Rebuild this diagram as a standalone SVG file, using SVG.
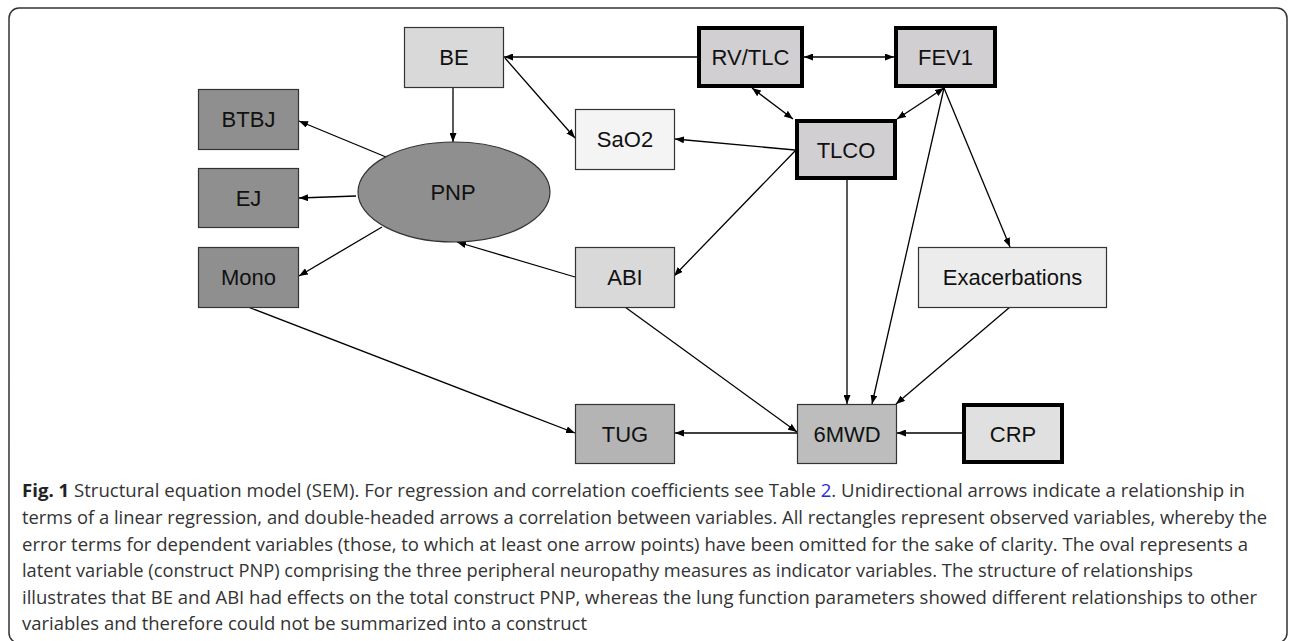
<svg xmlns="http://www.w3.org/2000/svg" width="1290" height="641" viewBox="0 0 1290 641">
<defs>
<style>
.n{stroke:#333;stroke-width:1.2}
.t{stroke:#000;stroke-width:4}
.lb{font-family:"Liberation Sans",Arial,sans-serif;font-size:22px;fill:#111;text-anchor:middle}
.c line{stroke:#000;stroke-width:1.3;marker-end:url(#ah)}
.c line.d{marker-start:url(#ah)}
.cap{font-family:"Open Sans","Noto Sans",sans-serif;font-size:18px;fill:#333}
</style>
<marker id="ah" viewBox="0 0 9 7" refX="9" refY="3.5" markerWidth="9" markerHeight="7" markerUnits="userSpaceOnUse" orient="auto-start-reverse"><path d="M0,0 L9,3.5 L0,7 z" fill="#000"/></marker>
</defs>
<rect x="0" y="0" width="1290" height="641" fill="#fff"/>
<rect x="9" y="8" width="1278" height="635" rx="10" fill="none" stroke="#333" stroke-width="1.5"/>

<g class="c" id="connectors">
<line x1="697" y1="57" x2="504" y2="57"/>
<line class="d" x1="804" y1="57" x2="894" y2="57"/>
<line class="d" x1="752" y1="88" x2="793" y2="119"/>
<line class="d" x1="944" y1="88" x2="897" y2="119"/>
<line x1="453" y1="87" x2="453" y2="142"/>
<line x1="505" y1="58" x2="575" y2="138"/>
<line x1="795" y1="150" x2="675" y2="139"/>
<line x1="795" y1="151" x2="674" y2="276"/>
<line x1="847" y1="180" x2="847" y2="404"/>
<line x1="944" y1="88" x2="872" y2="404"/>
<line x1="944" y1="88" x2="1010" y2="247"/>
<line x1="1010" y1="307" x2="896" y2="404"/>
<line x1="962" y1="433" x2="897" y2="433"/>
<line x1="797" y1="433" x2="675" y2="433"/>
<line x1="625" y1="307" x2="797" y2="432"/>
<line x1="575" y1="277" x2="457" y2="242"/>
<line x1="248" y1="307" x2="575" y2="433"/>
<line x1="382" y1="227" x2="299" y2="276"/>
<line x1="356" y1="196" x2="299" y2="198"/>
<line x1="386" y1="157" x2="299" y2="121"/>
</g>

<g id="BE"><rect class="n" x="404.5" y="27.5" width="99" height="60" fill="#d9d9d9"/><text class="lb" x="454" y="65">BE</text></g>
<g id="BTBJ"><rect class="n" x="198.5" y="89.5" width="100" height="60" fill="#8f8f8f"/><text class="lb" x="248.5" y="127">BTBJ</text></g>
<g id="EJ"><rect class="n" x="198.5" y="168.5" width="100" height="59" fill="#8f8f8f"/><text class="lb" x="248.5" y="206">EJ</text></g>
<g id="Mono"><rect class="n" x="198.5" y="247.5" width="100" height="60" fill="#8f8f8f"/><text class="lb" x="248.5" y="285">Mono</text></g>
<g id="PNP"><ellipse class="n" cx="454" cy="192" rx="96" ry="50" fill="#8f8f8f"/><text class="lb" x="453" y="200">PNP</text></g>
<g id="SaO2"><rect class="n" x="575.5" y="109.5" width="99" height="60" fill="#f4f4f4"/><text class="lb" x="625" y="147">SaO2</text></g>
<g id="RVTLC"><rect class="t" x="699" y="28" width="103" height="58" fill="#d1cfd2"/><text class="lb" x="750.5" y="65">RV/TLC</text></g>
<g id="FEV1"><rect class="t" x="896" y="28" width="99" height="58" fill="#d1cfd2"/><text class="lb" x="945.5" y="65">FEV1</text></g>
<g id="TLCO"><rect class="t" x="797" y="121" width="98" height="57" fill="#d1cfd2"/><text class="lb" x="846" y="157.5">TLCO</text></g>
<g id="ABI"><rect class="n" x="575.5" y="247.5" width="99" height="60" fill="#d9d9d9"/><text class="lb" x="625" y="285">ABI</text></g>
<g id="Exacerbations"><rect class="n" x="918.5" y="247.5" width="188" height="60" fill="#ececec"/><text class="lb" x="1012.5" y="285">Exacerbations</text></g>
<g id="TUG"><rect class="n" x="575.5" y="404.5" width="99" height="59" fill="#b4b4b4"/><text class="lb" x="625" y="442">TUG</text></g>
<g id="SixMWD"><rect class="n" x="797.5" y="404.5" width="99" height="59" fill="#bdbdbd"/><text class="lb" x="847" y="442">6MWD</text></g>
<g id="CRP"><rect class="t" x="964" y="405" width="98" height="57" fill="#e0e0e0"/><text class="lb" x="1013" y="442">CRP</text></g>

<g id="caption">
<text class="cap" x="22" y="497" textLength="1223" lengthAdjust="spacingAndGlyphs"><tspan font-weight="bold" fill="#222">Fig. 1</tspan> Structural equation model (SEM). For regression and correlation coefficients see Table <tspan fill="#2b2bd6">2</tspan>. Unidirectional arrows indicate a relationship in</text>
<text class="cap" x="22" y="524" textLength="1245" lengthAdjust="spacingAndGlyphs">terms of a linear regression, and double-headed arrows a correlation between variables. All rectangles represent observed variables, whereby the</text>
<text class="cap" x="22" y="551" textLength="1226" lengthAdjust="spacingAndGlyphs">error terms for dependent variables (those, to which at least one arrow points) have been omitted for the sake of clarity. The oval represents a</text>
<text class="cap" x="22" y="577" textLength="1171" lengthAdjust="spacingAndGlyphs">latent variable (construct PNP) comprising the three peripheral neuropathy measures as indicator variables. The structure of relationships</text>
<text class="cap" x="22" y="604" textLength="1235" lengthAdjust="spacingAndGlyphs">illustrates that BE and ABI had effects on the total construct PNP, whereas the lung function parameters showed different relationships to other</text>
<text class="cap" x="22" y="630" textLength="565" lengthAdjust="spacingAndGlyphs">variables and therefore could not be summarized into a construct</text>
</g>
</svg>
